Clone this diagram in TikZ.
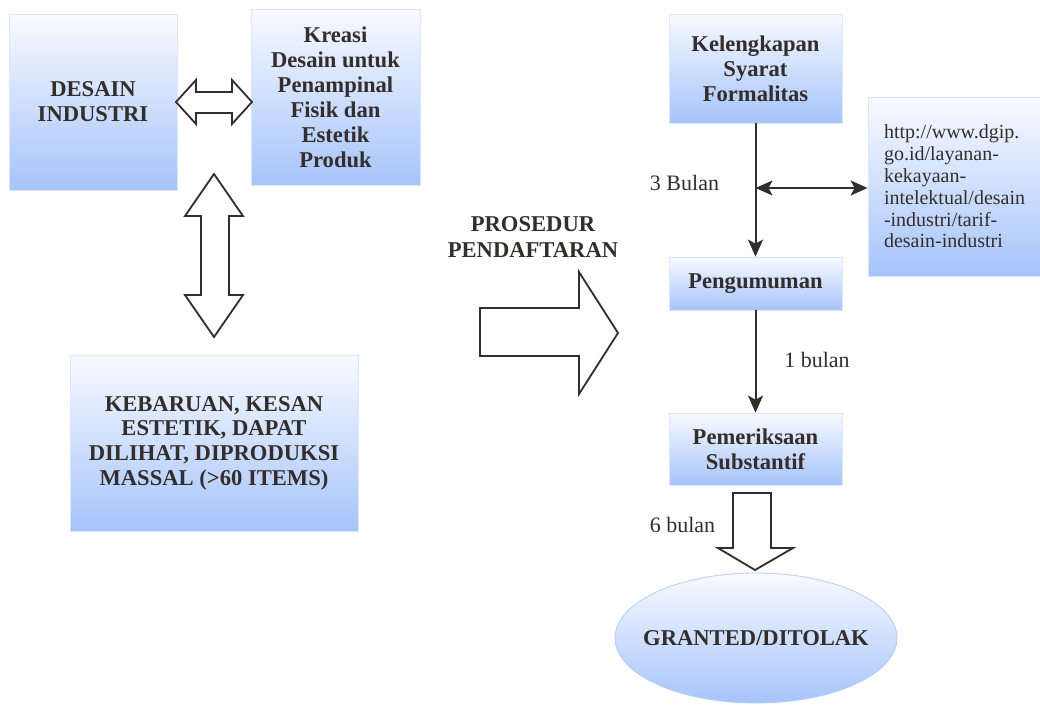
\documentclass[tikz,border=0pt]{standalone}
\usepackage{fontspec}
\setmainfont{Liberation Serif}
\usetikzlibrary{arrows.meta,shapes.geometric}
\definecolor{boxtop}{HTML}{F8FAFF}
\definecolor{boxbot}{HTML}{A6C4FA}
\definecolor{boxline}{HTML}{DDE7FB}
\definecolor{ellline}{HTML}{B4CDF8}
\definecolor{ink}{HTML}{332D2D}
\tikzset{
  bluebox/.style={draw=boxline, line width=0.8pt, top color=boxtop, bottom color=boxbot,
    inner sep=0pt, align=center, text=ink, font=\bfseries\fontsize{22.6}{25}\selectfont},
  lbl/.style={text=ink, font=\fontsize{22}{25}\selectfont, inner sep=0pt},
  blockarrow/.style={draw=ink, line width=1.8pt, fill=white, line join=miter},
  conn/.style={draw=ink, line width=2pt, -{Stealth[length=17pt,width=15pt,inset=4pt]}},
  dconn/.style={draw=ink, line width=2pt, {Stealth[length=17pt,width=15pt,inset=4pt]}-{Stealth[length=17pt,width=15pt,inset=4pt]}},
}
\begin{document}
\begin{tikzpicture}[x=1pt,y=-1pt]
\useasboundingbox[fill=white] (0,0) rectangle (1040,705);

% left part
\node[bluebox, minimum width=168pt, minimum height=176pt] (desain) at (93,102) {DESAIN\\INDUSTRI};
\node[bluebox, minimum width=169pt, minimum height=176pt] (kreasi) at (335.5,97) {Kreasi\\Desain untuk\\Penampinal\\Fisik dan\\Estetik\\Produk};
\node[bluebox, minimum width=288pt, minimum height=176pt, font=\bfseries\fontsize{22.6}{24.7}\selectfont] (kebaruan) at (214,443) {KEBARUAN, KESAN\\ESTETIK, DAPAT\\DILIHAT, DIPRODUKSI\\MASSAL (>60 ITEMS)};

% block arrows left
\draw[blockarrow] (176,102) -- (196,80) -- (196,92) -- (232,92) -- (232,80) -- (252,102)
  -- (232,124) -- (232,113) -- (196,113) -- (196,124) -- cycle;
\draw[blockarrow] (214,174) -- (243,216) -- (229,216) -- (229,295) -- (243,295) -- (214,337)
  -- (185,295) -- (201,295) -- (201,216) -- (185,216) -- cycle;

% middle
\node[lbl, font=\bfseries\fontsize{22.6}{26}\selectfont, align=center] (prosedur) at (533,237) {PROSEDUR\\PENDAFTARAN};
\draw[blockarrow] (480,308) -- (579,308) -- (579,272) -- (618,333) -- (579,394) -- (579,356) -- (480,356) -- cycle;

% right part
\node[bluebox, minimum width=173pt, minimum height=109pt] (kel) at (755.5,68.5) {Kelengkapan\\Syarat\\Formalitas};
\node[bluebox, minimum width=175pt, minimum height=179pt, inner xsep=16pt, text width=143pt, align=left,
  font=\fontsize{20}{21.8}\selectfont] (url) at (955.5,186.5)
  {http://www.dgip.\\go.id/layanan-\\kekayaan-\\intelektual/desain\\-industri/tarif-\\desain-industri};
\node[bluebox, minimum width=173pt, minimum height=53pt] (peng) at (755.5,283.5) {Pengumuman};
\node[bluebox, minimum width=173pt, minimum height=72pt] (pem) at (755.5,449) {Pemeriksaan\\Substantif};
\node[ellipse, draw=ellline, line width=0.8pt, top color=boxtop, bottom color=boxbot, inner sep=0pt,
  minimum width=282pt, minimum height=130pt,
  label={[text=ink, font=\bfseries\fontsize{22.6}{25}\selectfont, inner sep=0pt]center:GRANTED/DITOLAK}] (granted) at (756,638) {};

\coordinate (j) at (kel.south |- 0,188);
\draw[conn] (kel.south) -- (peng.north);
\draw[dconn] (j) -- (url.west |- j);
\draw[conn] (peng.south) -- (pem.north);

\node[lbl] (l3) at (684.5,183) {3 Bulan};
\node[lbl] (l1) at (817,360) {1 bulan};
\node[lbl] (l6) at (682.5,525) {6 bulan};

\draw[blockarrow] (733,493) -- (771,493) -- (771,548) -- (793,548) -- (755,570) -- (718,548) -- (733,548) -- cycle;
\end{tikzpicture}
\end{document}
